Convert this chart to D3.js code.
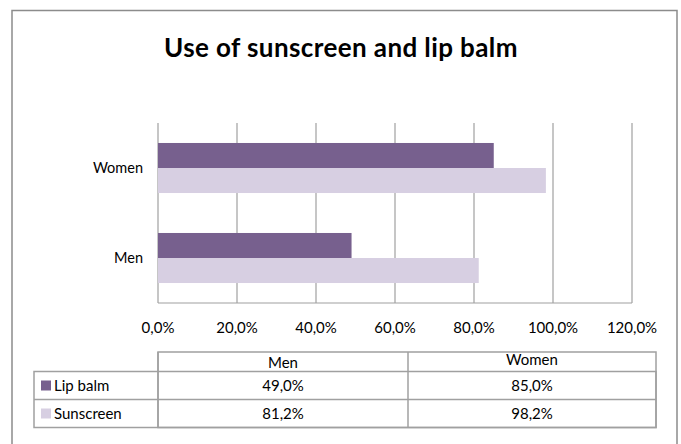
<!DOCTYPE html>
<meta charset="utf-8">
<script src="https://d3js.org/d3.v7.min.js"></script>
<style>
body { margin: 0; background: #fff; font-family: 'Lato', 'Open Sans', sans-serif; }
</style>
<body>
<svg width="681" height="444"></svg>
<script>
const categories = ['Women', 'Men'];
const seriesNames = ['Lip balm', 'Sunscreen'];
const lipBalm = [85.0, 49.0];     // Women, Men
const sunscreen = [98.2, 81.2];
const ticks = [0, 20, 40, 60, 80, 100, 120];
const tableCols = ['Men', 'Women'];
const colors = ['#77608e', '#d7cfe2'];

const fmt = v => d3.format('.1f')(v).replace('.', ',') + '%';

const svg = d3.select('svg');

// outer frame
svg.append('path')
    .attr('d', 'M12,450 V10.5 H677 V450')
    .attr('fill', 'none').attr('stroke', '#8c8c8c').attr('stroke-width', 1.5);

svg.append('text')
    .attr('x', 341).attr('y', 57)
    .attr('text-anchor', 'middle')
    .attr('font-size', 26).attr('font-weight', 'bold')
    .attr('letter-spacing', 0.4)
    .text('Use of sunscreen and lip balm');

const x = d3.scaleLinear().domain([0, 120]).range([158, 632]);
const y = d3.scaleBand().domain(categories).range([123, 303]).paddingInner(0.444).paddingOuter(0.222);
const ySub = d3.scaleBand().domain(seriesNames).range([0, y.bandwidth()]);

// gridlines
svg.append('g').selectAll('line').data(ticks).join('line')
    .attr('x1', d => x(d)).attr('x2', d => x(d))
    .attr('y1', 123).attr('y2', 303)
    .attr('stroke', '#a0a0a0').attr('stroke-width', 1.2);
svg.append('line').attr('x1', 158).attr('x2', 632).attr('y1', 303).attr('y2', 303)
    .attr('stroke', '#a0a0a0').attr('stroke-width', 1.2);

// bars
const rows = categories.map((c, i) => ({cat: c, vals: [lipBalm[i], sunscreen[i]]}));
const g = svg.append('g').selectAll('g').data(rows).join('g')
    .attr('transform', d => `translate(0,${y(d.cat)})`);
g.selectAll('rect').data(d => d.vals.map((v, k) => ({v, s: seriesNames[k], k}))).join('rect')
    .attr('x', x(0)).attr('y', d => ySub(d.s))
    .attr('width', d => x(d.v) - x(0)).attr('height', ySub.bandwidth())
    .attr('fill', d => colors[d.k]);

// category labels
svg.append('g').selectAll('text').data(categories).join('text')
    .attr('x', 143).attr('y', d => y(d) + y.bandwidth() / 2 + 5)
    .attr('text-anchor', 'end').attr('font-size', 14.5)
    .text(d => d);

// tick labels
svg.append('g').selectAll('text').data(ticks).join('text')
    .attr('x', d => x(d)).attr('y', 333)
    .attr('text-anchor', 'middle').attr('font-size', 15)
    .text(d => fmt(d));

// data table
const tLeft = 34, tCol0 = 158, tMid = 408, tRight = 656;
const rTop = 352, rHead = 371.5, r1 = 399.5, r2 = 427.5;
const tbl = svg.append('g').attr('stroke', '#a0a0a0').attr('stroke-width', 1.5).attr('fill', 'none');
tbl.append('rect').attr('x', tCol0).attr('y', rTop).attr('width', tRight - tCol0).attr('height', r2 - rTop);
tbl.append('rect').attr('x', tLeft).attr('y', rHead).attr('width', tRight - tLeft).attr('height', r2 - rHead);
tbl.append('line').attr('x1', tLeft).attr('x2', tRight).attr('y1', r1).attr('y2', r1);
tbl.append('line').attr('x1', tMid).attr('x2', tMid).attr('y1', rTop).attr('y2', r2);
tbl.append('line').attr('x1', tCol0).attr('x2', tCol0).attr('y1', rTop).attr('y2', r2);

const colCenter = [(tCol0 + tMid) / 2, (tMid + tRight) / 2];
const headBase = [368, 365];
svg.append('g').selectAll('text').data(tableCols).join('text')
    .attr('x', (d, i) => colCenter[i]).attr('y', (d, i) => headBase[i])
    .attr('text-anchor', 'middle').attr('font-size', 15)
    .text(d => d);

const tableRows = [
    {name: seriesNames[0], vals: [lipBalm[1], lipBalm[0]], color: colors[0]},
    {name: seriesNames[1], vals: [sunscreen[1], sunscreen[0]], color: colors[1]}
];
const rowY = [rHead, r1];
tableRows.forEach((r, i) => {
    const cy = (rowY[i] + (i ? r2 : r1)) / 2;
    svg.append('rect').attr('x', 41).attr('y', cy - 5).attr('width', 10).attr('height', 10).attr('fill', r.color);
    svg.append('text').attr('x', 54).attr('y', cy + 5.5).attr('font-size', 15).text(r.name);
    svg.append('g').selectAll('text').data(r.vals).join('text')
        .attr('x', (d, k) => colCenter[k]).attr('y', cy + 5.5)
        .attr('text-anchor', 'middle').attr('font-size', 15)
        .text(d => fmt(d));
});
</script>
</body>
